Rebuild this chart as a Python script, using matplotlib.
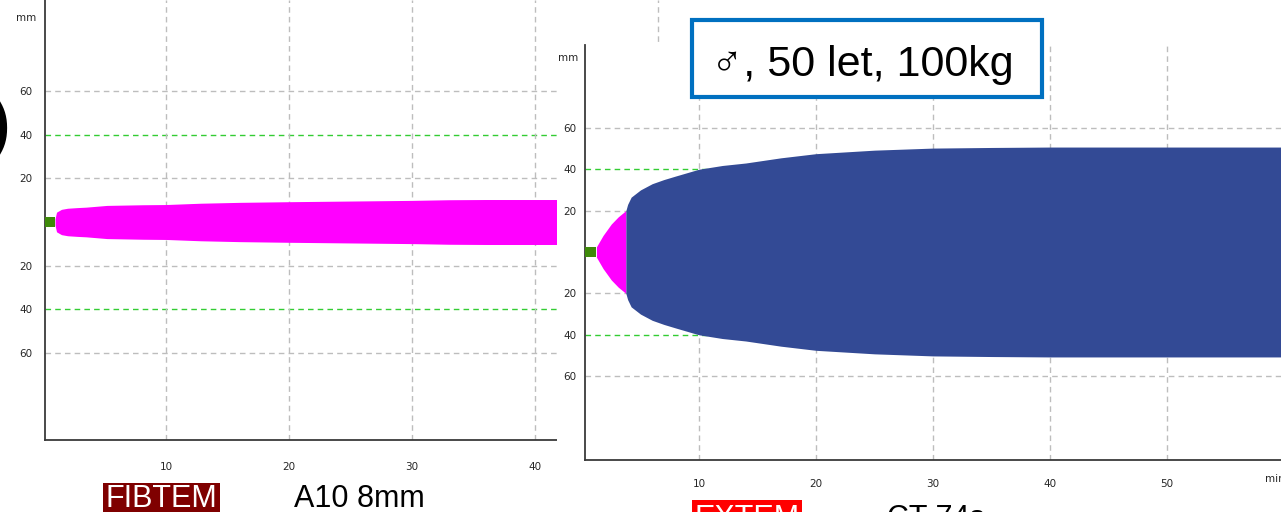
import numpy as np
import matplotlib.pyplot as plt
from matplotlib.patches import Rectangle

# FIBTEM trace: time (min) vs half amplitude (mm)
FIB_CT = 0.98
FIB_A10 = 8
fib_t = [0.98, 1.1, 1.5, 2.0, 2.8, 3.5, 5.2, 8.1, 10, 12.8, 16, 20, 25, 30, 33, 36, 40, 45]
fib_amp = [1.5, 4.5, 5.8, 6.3, 6.6, 6.8, 7.6, 7.9, FIB_A10, 8.6, 9.0, 9.3, 9.6, 9.9, 10.2, 10.3, 10.3, 10.3]

# EXTEM trace: clotting (pink) phase, then firm clot (blue)
EXT_CT_S = 74
ext_pink_t = [EXT_CT_S / 60, 1.8, 2.5, 3.1, 3.75]
ext_pink_amp = [2.5, 8, 13.5, 17, 20]
ext_blue_t = [3.75, 3.9, 4.2, 5, 6, 7, 8, 10, 12, 14, 17, 20, 25, 30, 35, 40, 50, 60]
ext_blue_amp = [20, 23, 26.5, 30, 33, 35, 36.7, 40, 41.8, 43, 45.5, 47.5, 49.2, 50.2, 50.5, 50.7, 50.7, 50.7]

amp_ticks = [-60, -40, -20, 20, 40, 60]
amp_labels = ["60", "40", "20", "20", "40", "60"]
fib_xticks = [10, 20, 30, 40, 50]
ext_xticks = [10, 20, 30, 40, 50]

W, H = 1281, 512
PINK = "#ff00ff"
BLUE = "#334a95"
CT_GREEN = "#3f8a0a"
GRID = "#bdbdbd"
LIMIT = "#33cc33"
AXIS = "#3a3a3a"
LABEL = "#262626"


def fx(x):
    return x / W


def fy(y):
    return 1 - y / H


def style_axes(ax, xticks, xlim):
    for s in ["top", "right"]:
        ax.spines[s].set_visible(False)
    for s in ["left", "bottom"]:
        ax.spines[s].set_color(AXIS)
        ax.spines[s].set_linewidth(1.3)
    ax.set_yticks(amp_ticks)
    ax.set_yticklabels(amp_labels)
    ax.set_xticks([t for t in xticks if t < xlim])
    ax.set_xticklabels([str(t) for t in xticks if t < xlim])
    ax.tick_params(length=0, labelsize=7.5, labelcolor=LABEL)
    for v in amp_ticks:
        c = LIMIT if abs(v) == 40 else GRID
        ax.axhline(v, color=c, lw=1.0, dashes=(4, 3), zorder=1)
    for t in xticks:
        ax.axvline(t, color=GRID, lw=1.0, dashes=(4, 3), zorder=1)


fig = plt.figure(figsize=(W / 100, H / 100), dpi=100)

# FIBTEM panel
ax1 = fig.add_axes([fx(45), fy(440), fx(1281 - 45), 440 / H], zorder=0)
ax1.set_xlim((45 - 43) / 12.3, (1281 - 43) / 12.3)
ax1.set_ylim(-(440 - 222) / 2.183, 222 / 2.183)
style_axes(ax1, fib_xticks, 60)
ax1.tick_params(axis="x", pad=16)
ax1.tick_params(axis="y", pad=9)
ax1.fill_between([0, FIB_CT], -2.5, 2.5, color=CT_GREEN, lw=0, zorder=3)
ax1.fill_between(fib_t, -np.array(fib_amp), fib_amp, color=PINK, lw=0, zorder=2)

# white sheet carrying the EXTEM panel
fig.add_artist(Rectangle((fx(557), 0), 1 - fx(557), fy(44), transform=fig.transFigure,
                         facecolor="white", edgecolor="none", zorder=1))

# EXTEM panel
ax2 = fig.add_axes([fx(585), fy(460), fx(1281 - 585), (460 - 45) / H], zorder=2)
ax2.set_facecolor("white")
ax2.set_xlim((585 - 582) / 11.7, (1281 - 582) / 11.7)
ax2.set_ylim(-(460 - 252) / 2.07, (252 - 45) / 2.07)
style_axes(ax2, ext_xticks, 60)
ax2.tick_params(axis="x", pad=14)
ax2.tick_params(axis="y", pad=6)
ax2.fill_between([0, EXT_CT_S / 60], -2.6, 2.6, color=CT_GREEN, lw=0, zorder=3)
ax2.fill_between(ext_pink_t, -np.array(ext_pink_amp), ext_pink_amp, color=PINK, lw=0, zorder=2)
ax2.fill_between(ext_blue_t, -np.array(ext_blue_amp), ext_blue_amp, color=BLUE, lw=0, zorder=2)
ax2.text(59.2, -100.5 - 19 / 2.07, "min", fontsize=7.5, color=LABEL,
         ha="center", va="center", clip_on=False)

fig.text(fx(26), fy(18), "mm", fontsize=7.5, color=LABEL, ha="center", va="center", zorder=0)
fig.text(fx(568), fy(58), "mm", fontsize=7.5, color=LABEL, ha="center", va="center", zorder=3)

# patient box
fig.add_artist(Rectangle((fx(692), fy(97)), fx(350), 77 / H, transform=fig.transFigure,
                         facecolor="white", edgecolor="#0070c0", lw=3, zorder=4))
fig.text(fx(862), fy(76), "\u2642, 50 let, 100kg", fontsize=31, color="black",
         family=["Liberation Sans", "DejaVu Sans"], ha="center", va="baseline", zorder=5)

# test labels under the panels
fig.add_artist(Rectangle((fx(103), fy(530)), fx(117), 47 / H, transform=fig.transFigure,
                         facecolor="#7f0000", edgecolor="none", zorder=4))
fig.text(fx(161.5), fy(507), "FIBTEM", fontsize=22, color="white",
         family="Liberation Sans", ha="center", va="baseline", zorder=5)
fig.text(fx(294), fy(507), "A10 %dmm" % FIB_A10, fontsize=22, color="black",
         family="Liberation Sans", ha="left", va="baseline", zorder=5)
fig.add_artist(Rectangle((fx(692), fy(540)), fx(110), 40 / H, transform=fig.transFigure,
                         facecolor="#ff0000", edgecolor="none", zorder=4))
fig.text(fx(747), fy(527), "EXTEM", fontsize=22, color="white",
         family="Liberation Sans", ha="center", va="baseline", zorder=5)
fig.text(fx(887), fy(527), "CT %ds" % EXT_CT_S, fontsize=22, color="black",
         family="Liberation Sans", ha="left", va="baseline", zorder=5)

# cut-off panel letter at the left edge
fig.text(fx(10), fy(128), ")", fontsize=46, fontweight="bold", color="black",
         family="Liberation Sans", ha="right", va="center", zorder=5)

fig.savefig("out.png", dpi=100)
